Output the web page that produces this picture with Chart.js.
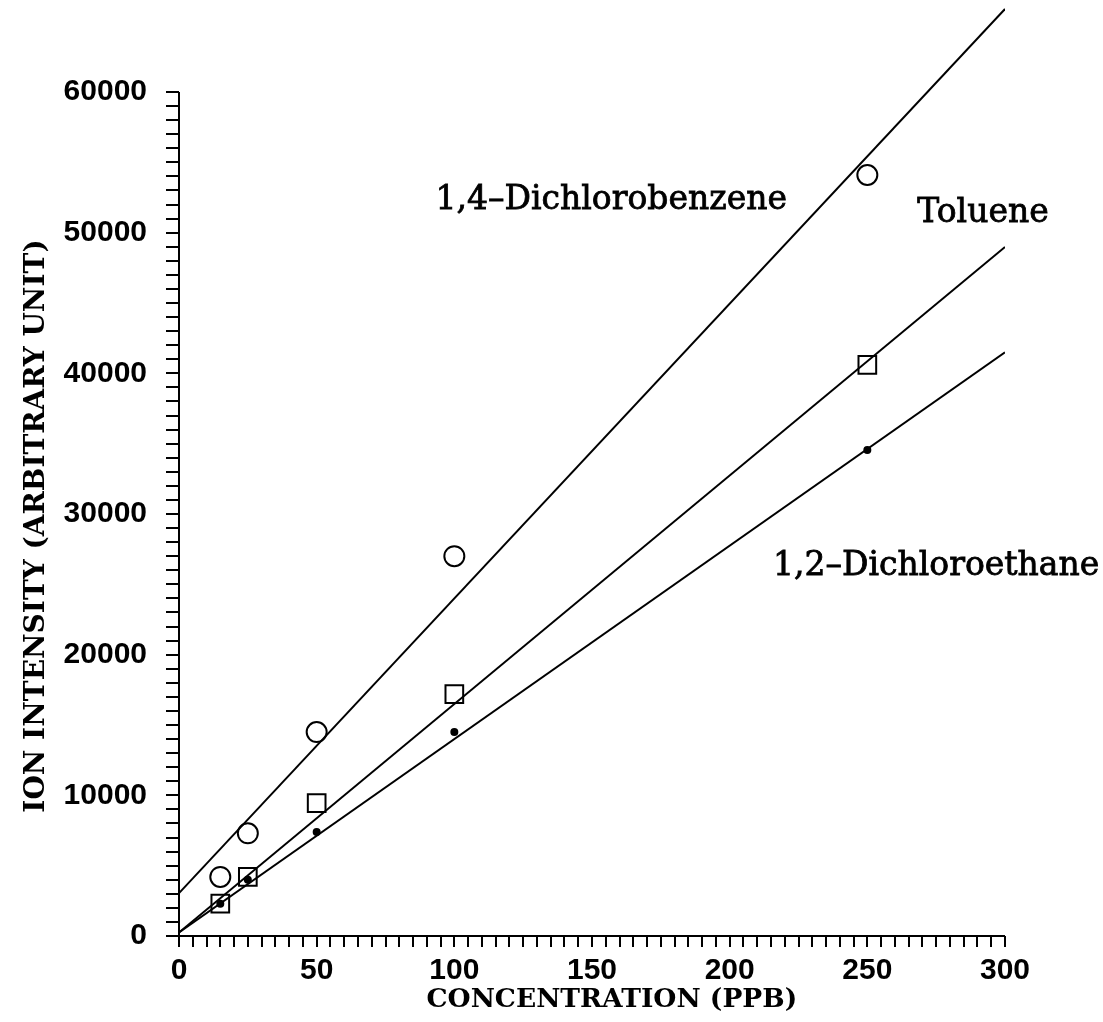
<!DOCTYPE html>
<html>
<head>
<meta charset="utf-8">
<script src="https://cdn.jsdelivr.net/npm/chart.js@4"></script>
<style>
  html, body { margin: 0; padding: 0; background: #fff; }
  #c { display: block; }
</style>
</head>
<body>
<canvas id="c" width="1103" height="1022"></canvas>
<script>
// Calibration data: ion intensity vs. concentration
const concentrations = [15, 25, 50, 100, 250];
const dichlorobenzene = [4200, 7300, 14500, 27000, 54100];
const toluene = [2300, 4200, 9450, 17200, 40600];
const dichloroethane = [2300, 4000, 7400, 14500, 34550];

// Fitted calibration lines, end points at 0 and 300 ppb
const fitX = [0, 300];
const fitDichlorobenzene = [3050, 65900];
const fitToluene = [250, 48980];
const fitDichloroethane = [250, 41500];

// Axis tick labels and minor tick spacing
const xTickLabels = [0, 50, 100, 150, 200, 250, 300];
const yTickLabels = [0, 10000, 20000, 30000, 40000, 50000, 60000];
const xMinorStep = 5;
const yMinorStep = 1000;
const yTop = 66540;

// Curve labels and where they sit (data coordinates)
const seriesNames = ['1,4\u2013Dichlorobenzene', 'Toluene', '1,2\u2013Dichloroethane'];
const nameX = [157, 292, 275];
const nameY = [52300, 51400, 26300];

const xTitle = 'CONCENTRATION (PPB)';
const yTitle = 'ION INTENSITY (ARBITRARY UNIT)';

const pts = (xs, ys) => xs.map((x, i) => ({ x: x, y: ys[i] }));

const lineStyle = { showLine: true, borderColor: '#000', borderWidth: 2, pointRadius: 0, fill: false };
const markerStyle = { showLine: false, borderColor: '#000', borderWidth: 2 };

// Keep the plot area flush with the canvas edges we set
const noScalePadding = s => {
  s.paddingTop = 0; s.paddingBottom = 0; s.paddingLeft = 0; s.paddingRight = 0;
};

// Axis rules drawn only across the labelled range, plus titles and curve names
const decorations = {
  id: 'decorations',
  afterDatasetsDraw(chart) {
    const { ctx, scales: { x, y }, chartArea } = chart;
    ctx.save();
    ctx.strokeStyle = '#000';
    ctx.lineWidth = 2;
    ctx.beginPath();
    ctx.moveTo(x.getPixelForValue(0), y.getPixelForValue(yTickLabels[yTickLabels.length - 1]));
    ctx.lineTo(x.getPixelForValue(0), y.getPixelForValue(0));
    ctx.lineTo(x.getPixelForValue(xTickLabels[xTickLabels.length - 1]), y.getPixelForValue(0));
    ctx.stroke();

    ctx.fillStyle = '#000';
    ctx.textAlign = 'center';
    ctx.textBaseline = 'middle';
    ctx.font = '33px "DejaVu Serif"';
    ctx.lineWidth = 0.8;
    seriesNames.forEach((name, i) => {
      const px = x.getPixelForValue(nameX[i]);
      const py = y.getPixelForValue(nameY[i]);
      ctx.fillText(name, px, py);
      ctx.strokeText(name, px, py);
    });

    ctx.font = 'bold 26.5px "DejaVu Serif"';
    const w = chartArea.right - chartArea.left;
    ctx.fillText(xTitle, chartArea.left + w * 0.524, chartArea.bottom + 64);

    ctx.font = 'bold 28px "DejaVu Serif"';
    ctx.translate(37, chartArea.top + (chartArea.bottom - chartArea.top) * 0.562);
    ctx.rotate(-Math.PI / 2);
    ctx.fillText(yTitle, 0, 0);
    ctx.restore();
  }
};

new Chart(document.getElementById('c'), {
  type: 'scatter',
  data: {
    datasets: [
      Object.assign({ data: pts(fitX, fitDichlorobenzene) }, lineStyle),
      Object.assign({ data: pts(fitX, fitToluene) }, lineStyle),
      Object.assign({ data: pts(fitX, fitDichloroethane) }, lineStyle),
      Object.assign({ data: pts(concentrations, dichlorobenzene), pointStyle: 'circle', pointRadius: 10, backgroundColor: 'rgba(0,0,0,0)' }, markerStyle),
      Object.assign({ data: pts(concentrations, toluene), pointStyle: 'rect', pointRadius: 12.5, backgroundColor: 'rgba(0,0,0,0)' }, markerStyle),
      Object.assign({ data: pts(concentrations, dichloroethane), pointStyle: 'circle', pointRadius: 3, backgroundColor: '#000' }, markerStyle)
    ]
  },
  options: {
    responsive: false,
    animation: false,
    layout: { autoPadding: false, padding: { left: 0, right: 98, top: 0, bottom: 0 } },
    plugins: { legend: { display: false }, tooltip: { enabled: false } },
    scales: {
      x: {
        type: 'linear',
        min: xTickLabels[0],
        max: xTickLabels[xTickLabels.length - 1],
        afterBuildTicks: s => {
          const t = [];
          for (let v = s.min; v <= s.max; v += xMinorStep) t.push({ value: v });
          s.ticks = t;
        },
        afterFit: s => { s.height = 86; noScalePadding(s); },
        grid: { drawOnChartArea: false, drawTicks: true, tickLength: 11, color: '#000', lineWidth: 2 },
        border: { display: false },
        ticks: {
          autoSkip: false, maxRotation: 0, padding: 6, color: '#000',
          font: { family: 'Liberation Sans', size: 30, weight: 'bold' },
          callback: v => xTickLabels.includes(v) ? String(v) : ''
        }
      },
      y: {
        type: 'linear',
        min: 0,
        max: yTop,
        afterBuildTicks: s => {
          const t = [];
          for (let v = yTickLabels[0]; v <= yTickLabels[yTickLabels.length - 1]; v += yMinorStep) t.push({ value: v });
          s.ticks = t;
        },
        afterFit: s => { s.width = 179; noScalePadding(s); },
        grid: { drawOnChartArea: false, drawTicks: true, tickLength: 13, color: '#000', lineWidth: 2 },
        border: { display: false },
        ticks: {
          autoSkip: false, padding: 19, color: '#000',
          font: { family: 'Liberation Sans', size: 30, weight: 'bold' },
          callback: v => yTickLabels.includes(v) ? String(v) : ''
        }
      }
    }
  },
  plugins: [decorations]
});
</script>
</body>
</html>
